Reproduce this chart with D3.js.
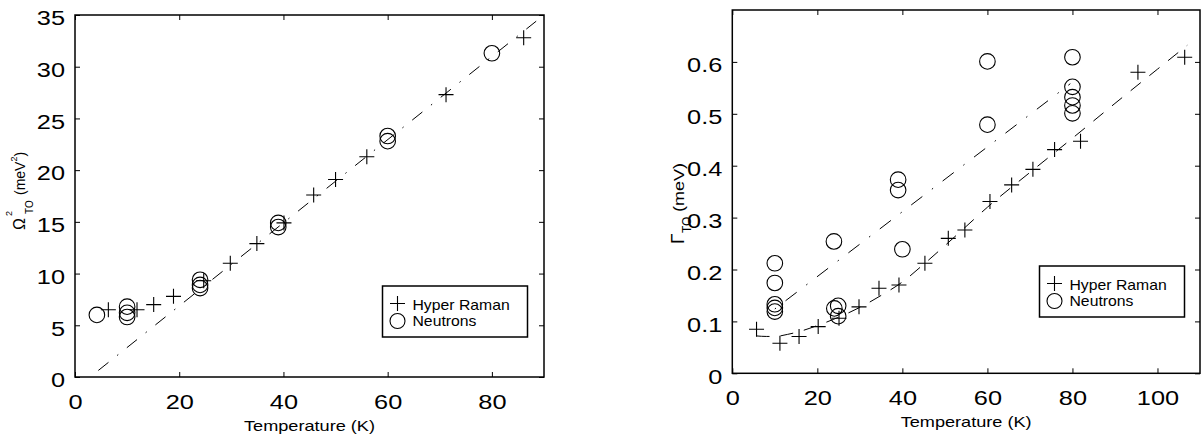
<!DOCTYPE html>
<html><head><meta charset="utf-8">
<script src="https://cdn.jsdelivr.net/npm/d3@7"></script>
<style>
body{margin:0;background:#fff}
svg{display:block}
text{font-family:"Liberation Sans",Arial,Helvetica,sans-serif;fill:#000}
</style>
</head><body>
<svg id="chart" width="1202" height="443"></svg>
<script>
// ---------- data: left panel (Omega^2_TO vs T) ----------
const leftRamanT   = [6.4, 11.9, 15.1, 18.9, 24.7, 29.8, 34.9, 40.1, 45.8, 50.0, 56.0, 71.2, 86.1];
const leftRamanV   = [6.5, 6.5, 7.0, 7.8, 9.3, 11.0, 12.9, 14.9, 17.6, 19.1, 21.3, 27.3, 32.8];
const leftNeutronT = [4.2, 10, 10, 10, 24, 24, 24, 39, 39, 60, 60, 80];
const leftNeutronV = [6.0, 6.8, 6.2, 5.8, 9.4, 8.9, 8.6, 14.9, 14.5, 23.3, 22.8, 31.3];
const leftFitT     = [2.9, 88.5];
const leftFitV     = [0.0, 34.4];
const leftXTicks   = [0, 20, 40, 60, 80];
const leftYTicks   = [0, 5, 10, 15, 20, 25, 30, 35];

// ---------- data: right panel (Gamma_TO vs T) ----------
const rightRamanT   = [5.7, 11.2, 15.7, 20.2, 25.1, 29.8, 34.5, 39.2, 45.3, 50.8, 54.7, 60.6, 65.7, 70.7, 75.8, 81.9, 95.4, 106.4];
const rightRamanV   = [0.085, 0.058, 0.071, 0.090, 0.106, 0.128, 0.164, 0.170, 0.212, 0.260, 0.276, 0.331, 0.363, 0.393, 0.431, 0.447, 0.580, 0.609];
const rightNeutronT = [10, 10, 10, 10, 10, 23.9, 24, 24.9, 24.9, 39, 39, 40, 60, 60, 80, 80, 80, 80, 80];
const rightNeutronV = [0.212, 0.174, 0.133, 0.126, 0.119, 0.254, 0.125, 0.130, 0.110, 0.373, 0.353, 0.239, 0.601, 0.479, 0.609, 0.552, 0.532, 0.516, 0.501];
const rightNeutronFitT = [10, 79.5];
const rightNeutronFitV = [0.124, 0.558];
const rightRamanFitT = [5.7, 8, 10, 13, 16, 20, 25, 30, 35, 40, 45, 50, 55, 60, 70, 80, 90, 100, 107];
const rightRamanFitV = [0.072, 0.071, 0.071, 0.075, 0.081, 0.092, 0.108, 0.127, 0.150, 0.176, 0.210, 0.246, 0.283, 0.320, 0.387, 0.453, 0.520, 0.586, 0.632];
const rightXTicks = [0, 20, 40, 60, 80, 100];
const rightYTicks = [0, 0.1, 0.2, 0.3, 0.4, 0.5, 0.6];

const legendLabels = ["Hyper Raman", "Neutrons"];
const xLabel = "Temperature (K)";

const zip = (a, b) => a.map((v, i) => [v, b[i]]);
const svg = d3.select("#chart");

function stretch(sel, f) {
  sel.each(function () {
    const w = this.getComputedTextLength();
    d3.select(this).attr("textLength", w * f).attr("lengthAdjust", "spacingAndGlyphs");
  });
}

function panel(cfg) {
  const g = svg.append("g");
  const x = d3.scaleLinear().domain(cfg.xDomain).range([cfg.left, cfg.right]);
  const y = d3.scaleLinear().domain(cfg.yDomain).range([cfg.bottom, cfg.top]);
  const tick = 5;

  const ax = g.append("g").attr("transform", `translate(0,${cfg.bottom})`)
    .call(d3.axisBottom(x).tickValues(cfg.xTicks).tickSizeInner(-tick).tickSizeOuter(0).tickPadding(18).tickFormat(d3.format("d")));
  const at = g.append("g").attr("transform", `translate(0,${cfg.top})`)
    .call(d3.axisTop(x).tickValues(cfg.xTicks).tickSizeInner(-tick).tickSizeOuter(0).tickFormat(""));
  const ay = g.append("g").attr("transform", `translate(${cfg.left},0)`)
    .call(d3.axisLeft(y).tickValues(cfg.yTicks).tickSizeInner(-tick).tickSizeOuter(0).tickPadding(10).tickFormat(cfg.yFmt));
  const ar = g.append("g").attr("transform", `translate(${cfg.right},0)`)
    .call(d3.axisRight(y).tickValues(cfg.yTicks).tickSizeInner(-tick).tickSizeOuter(0).tickFormat(""));
  [ax, at, ay, ar].forEach(a => {
    a.select(".domain").remove();
    a.selectAll(".tick line").attr("stroke", "#000").attr("stroke-width", 1);
    a.selectAll("text").style("font-family", '"Liberation Sans",Arial,sans-serif').attr("font-size", 19.5).attr("fill", "#000");
  });
  ay.selectAll("text").attr("dy", "0.5em");
  stretch(ax.selectAll("text"), 1.3);
  stretch(ay.selectAll("text"), 1.3);

  g.append("rect").attr("x", cfg.left).attr("y", cfg.top)
    .attr("width", cfg.right - cfg.left).attr("height", cfg.bottom - cfg.top)
    .attr("fill", "none").attr("stroke", "#000").attr("stroke-width", 1.5);

  const line = d3.line().x(d => x(d[0])).y(d => y(d[1]));
  cfg.lines.forEach(L => {
    g.append("path").datum(L.data)
      .attr("d", line.curve(L.curve || d3.curveLinear))
      .attr("fill", "none").attr("stroke", "#000").attr("stroke-width", 1)
      .attr("stroke-dasharray", L.dash).attr("stroke-dashoffset", L.offset || 0);
  });

  const plus = "M-7.5,0H7.5M0,-7.5V7.5";
  g.append("g").selectAll("path").data(cfg.raman).join("path")
    .attr("d", plus).attr("transform", d => `translate(${x(d[0])},${y(d[1])})`)
    .attr("stroke", "#000").attr("stroke-width", 1.1).attr("fill", "none");
  g.append("g").selectAll("circle").data(cfg.neutron).join("circle")
    .attr("cx", d => x(d[0])).attr("cy", d => y(d[1])).attr("r", 7.8)
    .attr("fill", "none").attr("stroke", "#000").attr("stroke-width", 1.1);

  // legend
  const lg = g.append("g").attr("transform", `translate(${cfg.legend[0]},${cfg.legend[1]})`);
  lg.append("rect").attr("width", 145).attr("height", 51)
    .attr("fill", "#fff").attr("stroke", "#000").attr("stroke-width", 1.5);
  lg.append("path").attr("d", plus).attr("transform", "translate(15,17.5)")
    .attr("stroke", "#000").attr("stroke-width", 1.1);
  lg.append("circle").attr("cx", 15).attr("cy", 35).attr("r", 7.5)
    .attr("fill", "none").attr("stroke", "#000").attr("stroke-width", 1.1);
  const lt = lg.selectAll("text.lab").data(legendLabels).join("text").attr("class", "lab")
    .attr("x", 30).attr("y", (d, i) => 23.5 + i * 16.5).attr("font-size", 15).text(d => d);
  stretch(lt, 1.05);

  // x label
  const xl = g.append("text").attr("x", (cfg.left + cfg.right) / 2).attr("y", cfg.bottom + 54)
    .attr("text-anchor", "middle").attr("font-size", 14.5).text(xLabel);
  stretch(xl, 1.25);
  return g;
}

panel({
  left: 75, right: 544, top: 15, bottom: 377,
  xDomain: [0, 90], yDomain: [0, 35],
  xTicks: leftXTicks, yTicks: leftYTicks, yFmt: d3.format("d"),
  raman: zip(leftRamanT, leftRamanV), neutron: zip(leftNeutronT, leftNeutronV),
  lines: [{ data: zip(leftFitT, leftFitV), dash: "13 11 1.5 11", offset: 26 }],
  legend: [382.5, 286]
});

panel({
  left: 732.3, right: 1200, top: 10, bottom: 373.3,
  xDomain: [0, 110], yDomain: [0, 0.7],
  xTicks: rightXTicks, yTicks: rightYTicks, yFmt: d3.format(".1~f"),
  raman: zip(rightRamanT, rightRamanV), neutron: zip(rightNeutronT, rightNeutronV),
  lines: [
    { data: zip(rightNeutronFitT, rightNeutronFitV), dash: "14 12 1.5 12", offset: 26 },
    { data: zip(rightRamanFitT, rightRamanFitV), dash: "13 11", curve: d3.curveMonotoneX }
  ],
  legend: [1039.5, 266]
});

// y labels (rotated, with sub/superscripts)
const yl1 = svg.append("g").attr("transform", "translate(25,190) rotate(-90)");
const t1 = yl1.append("text").attr("x", -40).attr("y", 0);
t1.append("tspan").attr("font-size", 16).text("Ω");
t1.append("tspan").attr("font-size", 9).attr("x", -26).attr("y", -13).text("2");
t1.append("tspan").attr("font-size", 10).attr("x", -24).attr("y", 8).text("TO");
t1.append("tspan").attr("font-size", 14).attr("x", -5).attr("y", 0).text("(meV");
t1.append("tspan").attr("font-size", 9).attr("y", -8).text("2");
t1.append("tspan").attr("font-size", 14).attr("y", 0).text(")");

const yl2 = svg.append("g").attr("transform", "translate(684,200) rotate(-90)");
const t2 = yl2.append("text").attr("x", -44).attr("y", 0);
t2.append("tspan").attr("font-size", 19).text("Γ");
t2.append("tspan").attr("font-size", 12).attr("x", -33).attr("y", 7).text("TO");
const mev = yl2.append("text").attr("x", -12).attr("y", 0).attr("font-size", 15).text("(meV)");
stretch(mev, 1.2);
</script>
</body></html>
